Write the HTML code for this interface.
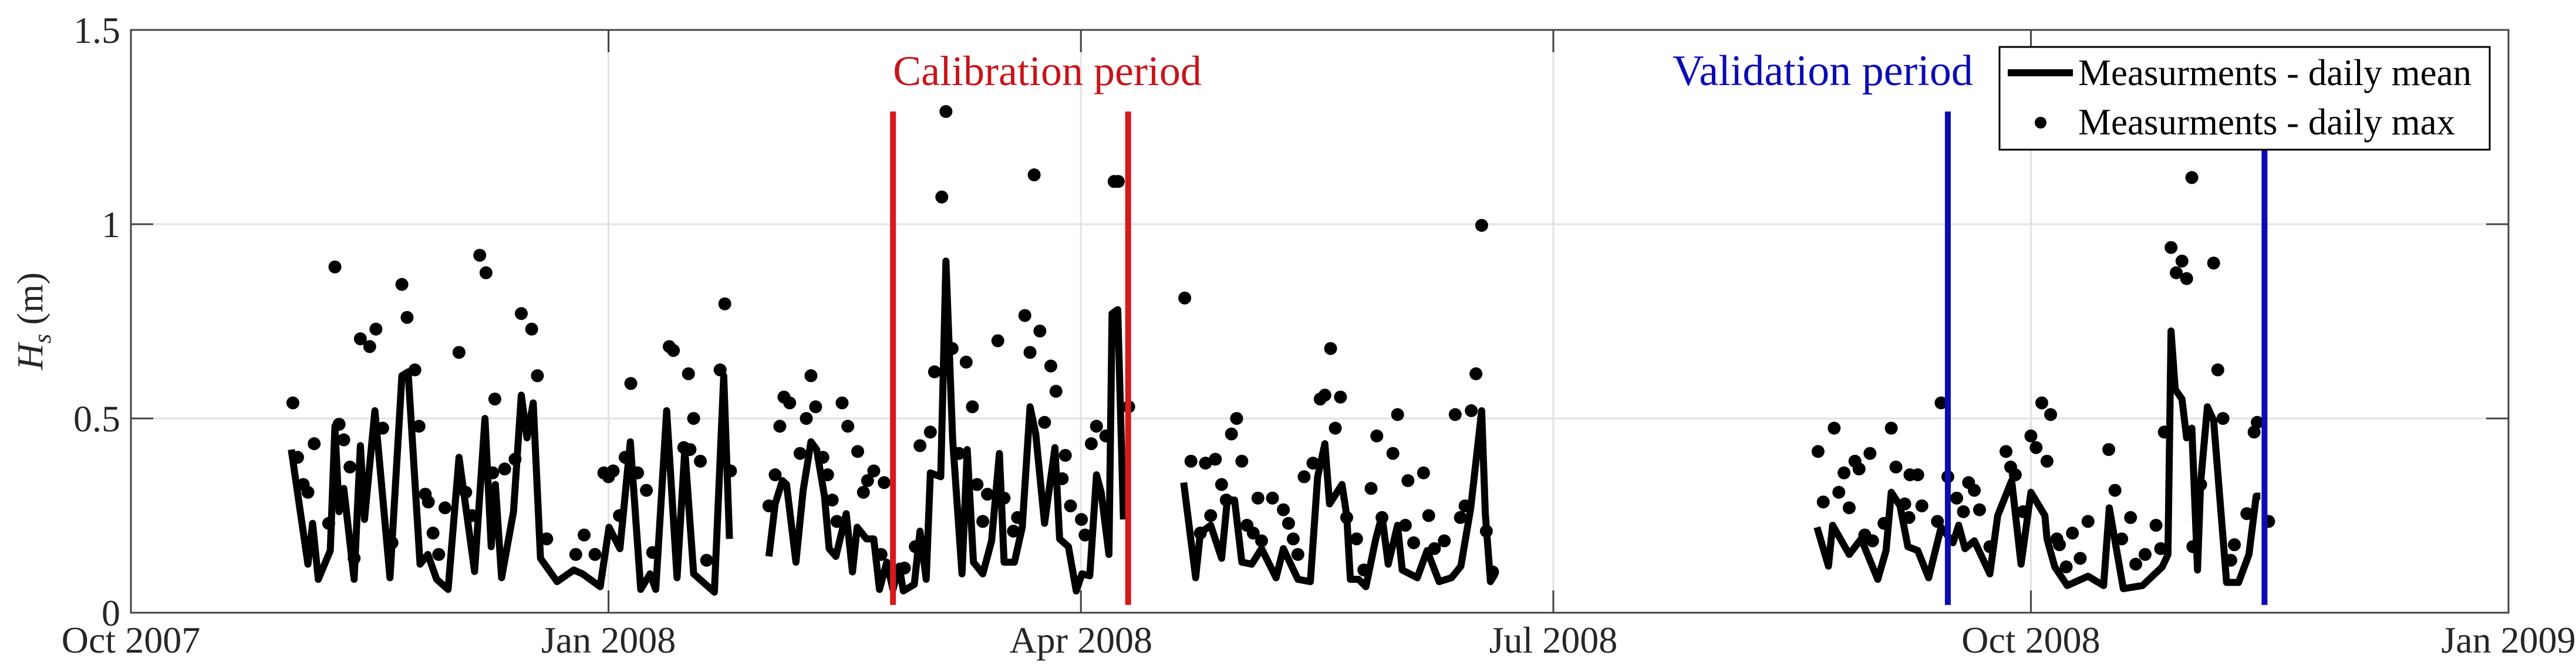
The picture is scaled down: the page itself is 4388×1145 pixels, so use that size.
<!DOCTYPE html>
<html><head><meta charset="utf-8"><style>
html,body{margin:0;padding:0;background:#fff;}
svg{display:block;}
text{font-family:"Liberation Serif",serif;}
</style></head><body>
<svg id="chart" width="4388" height="1145" viewBox="0 0 4388 1145" xmlns="http://www.w3.org/2000/svg"></svg>
<script>
// ---- data (days since 1 Oct 2007, Hs in m) ----
const xTickDays = [0, 92, 183, 274, 366, 458];
const xTickLabels = ["Oct 2007", "Jan 2008", "Apr 2008", "Jul 2008", "Oct 2008", "Jan 2009"];
const yTickValues = [0, 0.5, 1, 1.5];
const yTickLabels = ["0", "0.5", "1", "1.5"];

const meanDays = [30.9,34.1,35,36.1,38.4,39.3,40.1,41,43,44.2,45,47,49.9,52.2,53.4,55.7,57.2,58.9,61.1,63.2,66.2,68.2,69.4,70.2,71.4,73.7,75.2,76.3,77.5,78.9,82.1,85.3,87,90.4,92.1,94.2,96.2,98.2,100,101.1,103.2,105.2,106.7,108.4,112.4,114.2,115.3,
null,
122.9,124.1,125.5,126.3,128.1,129.5,131,132.1,133.6,134.5,135.8,137.8,139,139.9,141.7,143.1,144.2,145.6,146.8,148,148.8,150.9,152,153.2,154,156,157,158.3,160.1,161.1,162.3,164.1,165.8,167.3,168.2,170.2,171.7,173.2,174.3,176,178,178.9,180.6,182.1,183.2,184.7,186,186.9,188.4,189,190.1,191.2,
null,
202.8,205.1,206,208,210.1,211.2,212.6,214,215.9,217.8,220.6,222,224.8,227.2,228.6,230,230.9,233.3,234.2,234.9,236.5,237.9,239.8,241,242.2,244,244.9,247.8,249.7,252,254.4,256.2,258.1,260.2,260.9,261.9,262.8,
null,
324.8,327,327.8,331,333.3,336.5,338.1,339.1,340.8,342.3,344.2,346.3,348.7,351,352.1,353.3,355.1,358.1,359.6,362.3,364.1,366,368.7,369.1,370.6,373,377,380,381.1,383.8,387.5,391.3,392.4,393,393.8,395.1,396,397,398.1,398.7,400,401.2,403.7,406,408,409.4,410.2];
const meanValues = [0.42,0.125,0.23,0.086,0.16,0.48,0.26,0.32,0.086,0.43,0.24,0.52,0.09,0.61,0.62,0.125,0.15,0.086,0.06,0.40,0.106,0.50,0.17,0.33,0.09,0.26,0.56,0.45,0.54,0.14,0.08,0.11,0.10,0.067,0.22,0.165,0.44,0.06,0.10,0.06,0.52,0.09,0.42,0.10,0.053,0.61,0.19,
null,
0.145,0.28,0.34,0.33,0.13,0.315,0.44,0.42,0.30,0.165,0.145,0.255,0.105,0.22,0.19,0.19,0.06,0.13,0.06,0.12,0.056,0.073,0.21,0.086,0.36,0.35,0.905,0.445,0.10,0.42,0.13,0.10,0.185,0.41,0.13,0.13,0.22,0.53,0.46,0.23,0.425,0.19,0.17,0.056,0.10,0.095,0.355,0.31,0.15,0.77,0.78,0.24,
null,
0.335,0.09,0.205,0.225,0.14,0.29,0.29,0.13,0.125,0.165,0.09,0.165,0.086,0.08,0.35,0.435,0.28,0.33,0.25,0.086,0.086,0.067,0.19,0.25,0.125,0.225,0.11,0.09,0.16,0.08,0.09,0.12,0.27,0.52,0.255,0.08,0.10,
null,
0.22,0.12,0.225,0.15,0.19,0.086,0.16,0.31,0.275,0.17,0.16,0.09,0.22,0.18,0.225,0.165,0.185,0.10,0.25,0.34,0.125,0.31,0.25,0.19,0.118,0.07,0.094,0.07,0.27,0.062,0.07,0.118,0.15,0.725,0.575,0.55,0.45,0.475,0.11,0.335,0.53,0.495,0.078,0.078,0.15,0.30,0.30];

const maxDays = [31.2,32.1,33.2,34.1,35.3,38.1,39.3,40.1,41,42.2,43,44.2,46,47.2,48.5,50.3,52.2,53.2,54.7,55.5,56.7,57.3,58.2,59.3,60.5,63.2,64.5,65.7,67.2,68.4,69.7,70.1,72,74,75.2,77.2,78.3,80.1,85.7,87.3,89.4,91.1,92.9,92,94.1,95.2,96.3,97.6,99.3,100.5,103.7,104.5,107.4,108.4,106.5,107.7,109.7,110.9,113.5,114.4,115.5,
122.9,124.1,125.8,126.9,125,128.9,130.1,131,131.9,133.3,134.2,135.1,136,137,138.1,140,141.1,141.9,143.1,145.1,144.5,146.8,149,151.1,152,154,154.8,156.2,157,158.2,160.9,162.1,159.5,163,164.1,165,167,168.2,170,170.8,172.2,173.2,174,175.1,176,177.2,178.2,180,179.4,181,183.1,183.8,185,186,187.8,189.4,190.2,192.2,
203,204.2,207,208.9,206,208,210.1,211,212,213,214,215,216.2,217.1,217.8,219.9,222,223,223.9,224.8,226,227.7,229.1,230,231.1,232,233,234.2,236.1,237.5,238.9,240,241,243.1,244,245.5,246,247.1,249,250,251.1,253,255.1,256.1,257,258.2,259.1,260.2,261.1,262.3,
325,328.1,326,329,330,331,332.1,332.9,335,334,335.5,337.7,339.1,340,341.7,342.5,342.7,344.2,345,348,348.7,350,351.7,353,354,355.1,356.1,358.1,361.2,362.1,363,364.5,366,367,368.1,369.1,369.8,371,371.5,374,377,372.8,375.5,381,382.2,383.5,385.2,386.2,388,390.1,391,391.7,393,395.1,394,396,397,401.2,402,403,397.2,398.7,404.5,405.2,407.6,409,409.6,411.8];
const maxValues = [0.54,0.40,0.33,0.31,0.435,0.23,0.89,0.485,0.445,0.375,0.14,0.705,0.685,0.73,0.475,0.18,0.845,0.76,0.625,0.48,0.305,0.285,0.205,0.15,0.27,0.67,0.31,0.25,0.92,0.875,0.36,0.55,0.37,0.395,0.77,0.73,0.61,0.19,0.15,0.20,0.15,0.36,0.365,0.35,0.25,0.40,0.59,0.36,0.315,0.155,0.685,0.675,0.615,0.50,0.425,0.42,0.39,0.135,0.625,0.795,0.365,
0.275,0.355,0.555,0.54,0.48,0.41,0.50,0.61,0.53,0.40,0.355,0.29,0.235,0.54,0.48,0.415,0.31,0.34,0.365,0.335,0.15,0.11,0.115,0.17,0.43,0.465,0.62,1.07,1.29,0.68,0.645,0.53,0.41,0.33,0.235,0.305,0.70,0.295,0.21,0.245,0.765,0.67,1.127,0.725,0.49,0.635,0.57,0.405,0.345,0.275,0.24,0.20,0.435,0.48,0.455,1.11,1.11,0.53,
0.81,0.39,0.385,0.395,0.205,0.25,0.33,0.29,0.46,0.50,0.39,0.225,0.205,0.295,0.185,0.295,0.265,0.23,0.19,0.15,0.35,0.385,0.55,0.56,0.68,0.475,0.555,0.245,0.19,0.11,0.32,0.455,0.245,0.41,0.51,0.225,0.34,0.18,0.36,0.25,0.165,0.185,0.51,0.245,0.275,0.52,0.615,0.997,0.21,0.105,
0.415,0.475,0.285,0.31,0.36,0.27,0.39,0.37,0.41,0.20,0.185,0.23,0.475,0.375,0.28,0.245,0.355,0.355,0.275,0.235,0.54,0.35,0.295,0.26,0.335,0.315,0.265,0.17,0.415,0.375,0.355,0.26,0.455,0.425,0.54,0.39,0.51,0.19,0.175,0.205,0.235,0.118,0.14,0.42,0.315,0.19,0.245,0.125,0.15,0.225,0.165,0.465,0.94,0.905,0.875,0.86,1.12,0.90,0.625,0.50,0.17,0.33,0.135,0.175,0.255,0.465,0.49,0.235];

const calibrationDays = [146.8, 192.1];
const validationDays = [350, 411];
const periodLineRange = [0.02, 1.29];

// ---- axes ----
const X0 = 223, X1 = 4273, Y0 = 1044, Y1 = 51;
const DMIN = 0, DMAX = 458, VMIN = 0, VMAX = 1.5;
const xs = d => X0 + (d - DMIN) / (DMAX - DMIN) * (X1 - X0);
const ys = v => Y0 - (v - VMIN) / (VMAX - VMIN) * (Y0 - Y1);

const NS = "http://www.w3.org/2000/svg";
const svg = document.getElementById("chart");
function mk(tag, attrs, parent) {
  const e = document.createElementNS(NS, tag);
  for (const k in attrs) e.setAttribute(k, attrs[k]);
  (parent || svg).appendChild(e);
  return e;
}

// grid
const grid = mk("g", {});


xTickDays.forEach((d, i) => {
  if (i === 0 || i === xTickDays.length - 1) return;
  const l = mk("line", {x1: xs(d), x2: xs(d), y1: Y1, y2: Y0, stroke: "#e2e2e2", "stroke-width": 3}, grid);
  
  
});
yTickValues.forEach((v, i) => {
  if (i === 0 || i === yTickValues.length - 1) return;
  const l = mk("line", {x1: X0, x2: X1, y1: ys(v), y2: ys(v), stroke: "#e2e2e2", "stroke-width": 3}, grid);
  
  
});

// axis box
const box = mk("rect", {x: X0, y: Y1, width: X1 - X0, height: Y0 - Y1, fill: "none", stroke: "#444", "stroke-width": 3});



// ticks & labels
xTickDays.forEach((d, i) => {
  const x = xs(d);
  const t1 = mk("line", {x1: x, x2: x, y1: Y0, y2: Y0 - 38, stroke: "#444", "stroke-width": 3});
  
  
  const t2 = mk("line", {x1: x, x2: x, y1: Y1, y2: Y1 + 38, stroke: "#444", "stroke-width": 3});
  
  
  const tx = mk("text", {x: x, y: 1112, "font-size": 64, "text-anchor": "middle", fill: "#262626"});
  tx.textContent = xTickLabels[i];
  
  
});
yTickValues.forEach((v, i) => {
  const y = ys(v);
  const t1 = mk("line", {x1: X0, x2: X0 + 38, y1: y, y2: y, stroke: "#444", "stroke-width": 3});
  
  
  const t2 = mk("line", {x1: X1, x2: X1 - 38, y1: y, y2: y, stroke: "#444", "stroke-width": 3});
  
  
  const tx = mk("text", {x: 205, y: y + 22, "font-size": 64, "text-anchor": "end", fill: "#262626"});
  tx.textContent = yTickLabels[i];
  
  
});

// y axis title
const yt = mk("text", {x: 0, y: 0, "font-size": 62, "text-anchor": "middle", fill: "#262626", transform: "translate(72,547) rotate(-90)"});


const ti = mk("tspan", {"font-style": "italic"}, yt); ti.textContent = "H";
const ts = mk("tspan", {"font-style": "italic", dy: 14, "font-size": 42}, yt); ts.textContent = "s";
const tr = mk("tspan", {dy: -14}, yt); tr.textContent = " (m)";

// mean line (segments broken by null)
let d = "", pen = false;
meanDays.forEach((dd, i) => {
  const v = meanValues[i];
  if (dd === null || v === null) { pen = false; return; }
  d += (pen ? "L" : "M") + xs(dd).toFixed(1) + " " + ys(v).toFixed(1) + " ";
  pen = true;
});
const meanLine = mk("path", {d: d, fill: "none", stroke: "#000", "stroke-width": 12, "stroke-linejoin": "round", "stroke-linecap": "butt"});



// max markers
const mg = mk("g", {});


maxDays.forEach((dd, i) => {
  const c = mk("circle", {cx: xs(dd), cy: ys(maxValues[i]), r: 11, fill: "#000"}, mg);
  
  
});

// period lines
calibrationDays.forEach(dd => {
  const l = mk("line", {x1: xs(dd), x2: xs(dd), y1: ys(periodLineRange[1]), y2: ys(periodLineRange[0]), stroke: "#d7191c", "stroke-width": 10});
  
  
});
validationDays.forEach(dd => {
  const l = mk("line", {x1: xs(dd), x2: xs(dd), y1: ys(periodLineRange[1]), y2: ys(periodLineRange[0]), stroke: "#0b0bb5", "stroke-width": 10});
  
  
});
const cal = mk("text", {x: 1784, y: 145, "font-size": 72, "text-anchor": "middle", fill: "#c8141a"});
cal.textContent = "Calibration period";


const val = mk("text", {x: 3105, y: 145, "font-size": 74, "text-anchor": "middle", fill: "#0b0bb5"});
val.textContent = "Validation period";



// legend
const lg = mk("g", {});


const lb = mk("rect", {x: 3406, y: 80, width: 835, height: 175, fill: "#fff", stroke: "#000", "stroke-width": 3}, lg);


const ll = mk("line", {x1: 3420, x2: 3531, y1: 124, y2: 124, stroke: "#000", "stroke-width": 12}, lg);


const lt1 = mk("text", {x: 3540, y: 145, "font-size": 63, fill: "#000"}, lg);
lt1.textContent = "Measurments - daily mean";


const lc = mk("circle", {cx: 3476, cy: 209, r: 10, fill: "#000"}, lg);


const lt2 = mk("text", {x: 3540, y: 229, "font-size": 63, fill: "#000"}, lg);
lt2.textContent = "Measurments - daily max";


</script>
</body></html>
